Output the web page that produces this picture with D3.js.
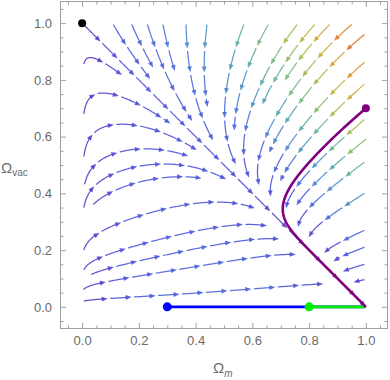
<!DOCTYPE html>
<html>
<head>
<meta charset="utf-8">
<script src="https://cdn.jsdelivr.net/npm/d3@7"></script>
<style>
body { margin: 0; background: #fff; }
svg { display: block; font-family: "Liberation Sans", Arial, sans-serif; }
</style>
</head>
<body>
<div class="container"></div>
<script>
const WIDTH = 390, HEIGHT = 380;
const LEFT = 60, RIGHT = 388, TOP = 1, BOTTOM = 329;
const LO = -0.078, HI = 1.078;

// tick labels
const xTicks = [0, 0.2, 0.4, 0.6, 0.8, 1.0];
const yTicks = [0, 0.2, 0.4, 0.6, 0.8, 1.0];
const minorTicks = [-0.05, 0.05, 0.1, 0.15, 0.25, 0.3, 0.35, 0.45, 0.5, 0.55, 0.65, 0.7, 0.75, 0.85, 0.9, 0.95, 1.05];

// stream seeds (where the lines start)
const topSeedXs = [0.11, 0.175, 0.23, 0.285, 0.366, 0.44, 0.57, 0.656, 0.758, 0.82, 0.873, 0.95];
const rightSeedYs = [0.96, 0.862, 0.785, 0.66, 0.60, 0.51, 0.45, 0.40, 0.355, 0.27, 0.21, 0.15, 0.096];
const leftSeedYs = [0.02, 0.055, 0.13, 0.2, 0.27, 0.35, 0.44, 0.53, 0.6, 0.68, 0.76, 0.856];
const gridSeeds = [0.05, 0.15, 0.25, 0.35, 0.45, 0.55, 0.65, 0.75, 0.85, 0.95];

// marked points and the trajectories started from them
const pointNames = ['black', 'blue', 'green', 'purple'];
const pointOm = [0.0, 0.3, 0.8, 1.0];
const pointOv = [1.0, 0.0, 0.0, 0.7];

// field coefficients, fitted by eye to the arrows
const A0 = 0.03, A1 = 0.35, D0 = 0.1, D1 = 1.3;

const STYLE = {
	black: { fill: '#000', r: 4 },
	blue: { fill: '#0000ff', r: 4.5 },
	green: { fill: '#00ee00', r: 4.5 },
	purple: { fill: '#800080', r: 4 }
};

var field = function(x, y) {
	const k = 1 - x - y;
	const a = A0 + A1 * y;
	const d = D0 + D1 * x * (1 - y);
	return [x * (y * a + k), y * (k * d - x * a)];
};

const _x = d3.scaleLinear().domain([LO, HI]).range([LEFT, RIGHT]);
const _y = d3.scaleLinear().domain([LO, HI]).range([BOTTOM, TOP]);

const colorScale = d3.scaleLinear()
	.domain([0, 0.06, 0.14, 0.25, 0.35, 0.45, 0.55, 0.65, 0.75, 0.85, 1])
	.range(['#7a1f88', '#5a38c4', '#4c4ed8', '#4a68dc', '#4a8ccc', '#58a8aa', '#76b884', '#a0bc50', '#c8b23c', '#e0902e', '#e04a25'])
	.clamp(true);

var speedOf = function(x, y) {
	const v = field(x, y);
	return Math.hypot(v[0], v[1]) * (1 + 1.5 * y);
};
var maxSpeed = 0;
for (let i = 0; i <= 40; i++) for (let j = 0; j <= 40; j++) maxSpeed = Math.max(maxSpeed, speedOf(i / 40, j / 40));
var colorAt = function(x, y) {
	return colorScale(Math.pow(speedOf(x, y) / maxSpeed, 0.7));
};

// --- streamline tracing ---
const H = 0.004, DSEP = 0.062, DTEST = 0.03;
var cells = new Map();
var cellKey = (x, y) => Math.floor(x / DSEP) + ',' + Math.floor(y / DSEP);
var addPts = function(pts) {
	pts.forEach(p => {
		const key = cellKey(p[0], p[1]);
		if (!cells.has(key)) cells.set(key, []);
		cells.get(key).push(p);
	});
};
var nearest = function(x, y) {
	const ci = Math.floor(x / DSEP), cj = Math.floor(y / DSEP);
	let best = Infinity;
	for (let i = ci - 1; i <= ci + 1; i++) for (let j = cj - 1; j <= cj + 1; j++) {
		const list = cells.get(i + ',' + j);
		if (!list) continue;
		list.forEach(p => { best = Math.min(best, Math.hypot(p[0] - x, p[1] - y)); });
	}
	return best;
};

var dirAt = function(p, s) {
	const v = field(p[0], p[1]);
	const n = Math.hypot(v[0], v[1]);
	if (n < 1e-7) return null;
	return [s * v[0] / n, s * v[1] / n];
};
var step = function(p, s) {
	const k1 = dirAt(p, s); if (!k1) return null;
	const k2 = dirAt([p[0] + H / 2 * k1[0], p[1] + H / 2 * k1[1]], s); if (!k2) return null;
	const k3 = dirAt([p[0] + H / 2 * k2[0], p[1] + H / 2 * k2[1]], s); if (!k3) return null;
	const k4 = dirAt([p[0] + H * k3[0], p[1] + H * k3[1]], s); if (!k4) return null;
	return [p[0] + H / 6 * (k1[0] + 2 * k2[0] + 2 * k3[0] + k4[0]),
		p[1] + H / 6 * (k1[1] + 2 * k2[1] + 2 * k3[1] + k4[1])];
};

var trace = function(seed, s, opts) {
	const pts = [];
	let p = seed;
	for (let i = 0; i < (opts.maxSteps || 700); i++) {
		const q = step(p, s);
		if (!q) break;
		if (q[0] < opts.lo || q[0] > 1.0005 || q[1] < opts.lo || q[1] > 1.0005) break;
		if (opts.check && nearest(q[0], q[1]) < DTEST) break;
		if (opts.target && Math.hypot(q[0] - opts.target[0], q[1] - opts.target[1]) < 0.004) { pts.push(q); break; }
		pts.push(q);
		p = q;
	}
	return pts;
};

var streams = [];
var addStream = function(seed, both, check) {
	if (check && nearest(seed[0], seed[1]) < DSEP * 0.8) return;
	const fw = trace(seed, 1, { lo: check ? 0.004 : -0.0005, check: check });
	const bw = both ? trace(seed, -1, { lo: 0.004, check: check }) : [];
	const line = bw.reverse().concat([seed], fw);
	if (line.length < 10) return;
	streams.push(line);
	addPts(line);
};

// the line through the black point first
addStream([pointOm[0] + 0.005, pointOv[0] - 0.005], true, false);
topSeedXs.forEach(v => addStream([v, 0.995], false, true));
rightSeedYs.forEach(v => addStream([0.995, v], false, true));
leftSeedYs.forEach(v => addStream([0.006, v], false, true));
gridSeeds.forEach(a => gridSeeds.forEach(b => addStream([a, b], true, true)));

// --- drawing ---
var _svg = d3.select('.container').append('svg')
	.attr('width', WIDTH)
	.attr('height', HEIGHT);

var clip = _svg.append('clipPath').attr('id', 'plotclip');
clip.append('rect').attr('x', LEFT).attr('y', TOP).attr('width', RIGHT - LEFT).attr('height', BOTTOM - TOP);

var _g = _svg.append('g').attr('clip-path', 'url(#plotclip)');

const PIECE = 24, GAP = 2.5;
var drawStream = function(line) {
	const P = line.map(p => [_x(p[0]), _y(p[1])]);
	const cum = [0];
	for (let i = 1; i < P.length; i++) cum.push(cum[i - 1] + Math.hypot(P[i][0] - P[i - 1][0], P[i][1] - P[i - 1][1]));
	const total = cum[cum.length - 1];
	const at = function(s) {
		let i = d3.bisectRight(cum, s) - 1;
		i = Math.max(0, Math.min(i, P.length - 2));
		const t = (s - cum[i]) / ((cum[i + 1] - cum[i]) || 1);
		return [P[i][0] + t * (P[i + 1][0] - P[i][0]), P[i][1] + t * (P[i + 1][1] - P[i][1])];
	};
	for (let s0 = 0; s0 < total; s0 += PIECE) {
		const s1 = Math.min(s0 + PIECE, total);
		if (s1 - s0 < 9) break;
		const a0 = s0 + (s0 > 0 ? GAP : 0);
		const pts = [at(a0)];
		for (let i = 0; i < P.length; i++) if (cum[i] > a0 && cum[i] < s1 - 4) pts.push(P[i]);
		pts.push(at(s1 - 4));
		const mid = at((a0 + s1) / 2);
		const col = colorAt(_x.invert(mid[0]), _y.invert(mid[1]));
		_g.append('path')
			.attr('d', d3.line()(pts))
			.attr('fill', 'none')
			.attr('stroke', col)
			.attr('stroke-width', 1.25)
			.attr('stroke-opacity', 0.9);
		const tip = at(s1), back = at(s1 - 5);
		let ux = tip[0] - back[0], uy = tip[1] - back[1];
		const n = Math.hypot(ux, uy) || 1;
		ux /= n; uy /= n;
		const bx = tip[0] - 6 * ux, by = tip[1] - 6 * uy;
		_g.append('path')
			.attr('d', 'M' + tip[0] + ',' + tip[1] + 'L' + (bx + 2.4 * uy) + ',' + (by - 2.4 * ux) + 'L' + (bx - 2.4 * uy) + ',' + (by + 2.4 * ux) + 'Z')
			.attr('fill', col)
			.attr('fill-opacity', 0.9);
	}
};
streams.forEach(drawStream);

// trajectories from the marked points
var lineGen = d3.line().x(d => _x(d[0])).y(d => _y(d[1]));
['blue', 'green', 'purple'].forEach(name => {
	const i = pointNames.indexOf(name);
	const seed = [pointOm[i], pointOv[i]];
	const path = [seed].concat(trace(seed, 1, { lo: -0.001, check: false, target: [1, 0], maxSteps: 2000 }));
	_g.append('path')
		.attr('d', lineGen(path))
		.attr('fill', 'none')
		.attr('stroke', STYLE[name].fill)
		.attr('stroke-width', 2.6)
		.attr('stroke-linecap', 'round');
});

pointNames.forEach((name, i) => {
	_g.append('circle')
		.attr('cx', _x(pointOm[i]))
		.attr('cy', _y(pointOv[i]))
		.attr('r', STYLE[name].r)
		.attr('fill', STYLE[name].fill);
});

// frame and ticks
var styleAxis = function(sel) {
	sel.select('.domain').remove();
	sel.selectAll('line').attr('stroke', '#a0a0a0');
	sel.selectAll('text').attr('fill', '#6a6a6a').style('font-size', '13px').style('font-family', '"Liberation Sans", Arial, sans-serif');
};
var fmt = d3.format('.1f');

_svg.append('g').attr('transform', 'translate(0,' + BOTTOM + ')')
	.call(d3.axisBottom(_x).tickValues(xTicks).tickSize(-6).tickPadding(7).tickFormat(fmt)).call(styleAxis);
_svg.append('g').attr('transform', 'translate(0,' + BOTTOM + ')')
	.call(d3.axisBottom(_x).tickValues(minorTicks).tickSize(-3.5).tickFormat('')).call(styleAxis);
_svg.append('g').attr('transform', 'translate(' + LEFT + ',0)')
	.call(d3.axisLeft(_y).tickValues(yTicks).tickSize(-6).tickPadding(8).tickFormat(fmt)).call(styleAxis);
_svg.append('g').attr('transform', 'translate(' + LEFT + ',0)')
	.call(d3.axisLeft(_y).tickValues(minorTicks).tickSize(-3.5).tickFormat('')).call(styleAxis);
_svg.append('g').attr('transform', 'translate(0,' + TOP + ')')
	.call(d3.axisTop(_x).tickValues(xTicks).tickSize(-6).tickFormat('')).call(styleAxis);
_svg.append('g').attr('transform', 'translate(0,' + TOP + ')')
	.call(d3.axisTop(_x).tickValues(minorTicks).tickSize(-3.5).tickFormat('')).call(styleAxis);
_svg.append('g').attr('transform', 'translate(' + RIGHT + ',0)')
	.call(d3.axisRight(_y).tickValues(yTicks).tickSize(-6).tickFormat('')).call(styleAxis);
_svg.append('g').attr('transform', 'translate(' + RIGHT + ',0)')
	.call(d3.axisRight(_y).tickValues(minorTicks).tickSize(-3.5).tickFormat('')).call(styleAxis);

_svg.append('rect')
	.attr('x', LEFT + 0.5).attr('y', TOP + 0.5)
	.attr('width', RIGHT - LEFT - 1).attr('height', BOTTOM - TOP - 1)
	.attr('fill', 'none').attr('stroke', '#a0a0a0').attr('stroke-width', 1);

// axis titles
var xt = _svg.append('text').attr('x', 213).attr('y', 373).attr('fill', '#6a6a6a').style('font-size', '15px');
xt.append('tspan').text('Ω');
xt.append('tspan').attr('dy', 4).style('font-size', '10px').style('font-style', 'italic').text('m');

var yt = _svg.append('text').attr('x', 1).attr('y', 173).attr('fill', '#6a6a6a').style('font-size', '15px');
yt.append('tspan').text('Ω');
yt.append('tspan').attr('dy', 3).style('font-size', '10px').text('vac');
</script>
</body>
</html>
